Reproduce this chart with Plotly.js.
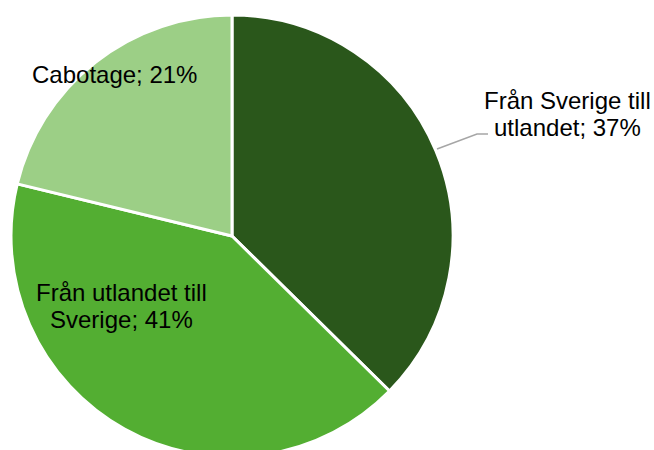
<!DOCTYPE html>
<html>
<head>
<meta charset="utf-8">
<script src="https://cdn.plot.ly/plotly-3.0.1.min.js"></script>
<style>
html, body { margin: 0; padding: 0; overflow: hidden; background: #fff; }
#chart { width: 654px; height: 470px; }
</style>
</head>
<body>
<div id="chart"></div>
<script>
const categories = ["Från Sverige till utlandet", "Från utlandet till Sverige", "Cabotage"];
const labelLines = [["Från Sverige till", "utlandet"], ["Från utlandet till", "Sverige"], ["Cabotage"]];
const shares = [37, 41, 21];
const colors = ["#2a571b", "#53ae32", "#9ccf86"];

const W = 654, H = 470;
const px = x => x / W;
const py = y => 1 - y / H;

// label anchor (center x, middle y of first line) and line spacing, in px
const labelPos = [[567, 100.5], [121, 292], [114, 75]];
const lineGap = 27;

const annotations = [];
categories.forEach((c, i) => {
  const lines = labelLines[i].slice();
  lines[lines.length - 1] += "; " + shares[i] + "%";
  lines.forEach((t, j) => {
    annotations.push({
      text: t,
      x: px(labelPos[i][0]), y: py(labelPos[i][1] + j * lineGap),
      xref: "paper", yref: "paper", showarrow: false,
      xanchor: "center", yanchor: "middle", align: "center",
      font: { family: "Liberation Sans, Arial, sans-serif", size: 24, color: "#000" }
    });
  });
});

const trace = {
  type: "pie",
  labels: categories,
  values: shares,
  sort: false,
  direction: "clockwise",
  rotation: 0,
  textinfo: "none",
  hoverinfo: "label+percent",
  marker: { colors: colors, line: { color: "#ffffff", width: 3 } },
  domain: { x: [px(11), px(453)], y: [py(457), py(15)] },
  showlegend: false
};

const layout = {
  width: W, height: H,
  margin: { l: 0, r: 0, t: 0, b: 0 },
  paper_bgcolor: "#ffffff",
  showlegend: false,
  annotations: annotations,
  shapes: [{
    type: "path", xref: "paper", yref: "paper",
    path: `M ${px(437)} ${py(149)} L ${px(477)} ${py(134)} L ${px(488)} ${py(134)}`,
    line: { color: "#a6a6a6", width: 1.5 }
  }]
};

Plotly.newPlot("chart", [trace], layout, { displayModeBar: false, staticPlot: true });
</script>
</body>
</html>
